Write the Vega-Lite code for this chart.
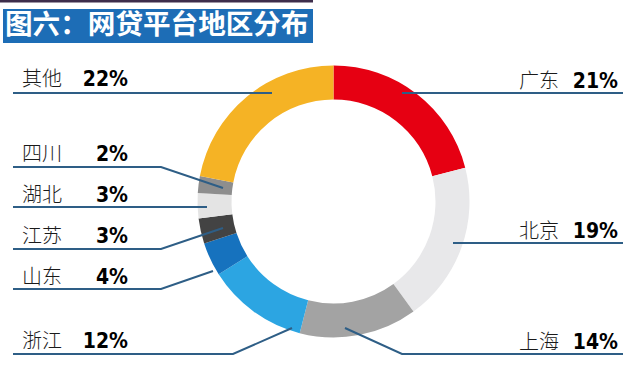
{
  "$schema": "https://vega.github.io/schema/vega-lite/v6.json",
  "width": 628,
  "height": 389,
  "padding": 0,
  "autosize": {"type": "none"},
  "background": "#ffffff",
  "config": {"view": {"stroke": null}},
  "datasets": {
    "regions": [
      {"region": "广东", "pct": 21, "rank": 1, "nx": 519, "px": 618, "ty": 82},
      {"region": "北京", "pct": 19, "rank": 2, "nx": 519, "px": 618, "ty": 232},
      {"region": "上海", "pct": 14, "rank": 3, "nx": 519, "px": 618, "ty": 343},
      {"region": "浙江", "pct": 12, "rank": 4, "nx": 22, "px": 128, "ty": 342},
      {"region": "山东", "pct": 4, "rank": 5, "nx": 22, "px": 128, "ty": 278},
      {"region": "江苏", "pct": 3, "rank": 6, "nx": 22, "px": 128, "ty": 237},
      {"region": "湖北", "pct": 3, "rank": 7, "nx": 22, "px": 128, "ty": 196},
      {"region": "四川", "pct": 2, "rank": 8, "nx": 22, "px": 128, "ty": 155},
      {"region": "其他", "pct": 22, "rank": 9, "nx": 22, "px": 128, "ty": 80}
    ],
    "leaders": [
      {"region": "其他", "i": 0, "x": 13, "y": 93},
      {"region": "其他", "i": 1, "x": 272, "y": 93},
      {"region": "四川", "i": 0, "x": 13, "y": 167},
      {"region": "四川", "i": 1, "x": 161, "y": 167},
      {"region": "四川", "i": 2, "x": 223, "y": 188},
      {"region": "湖北", "i": 0, "x": 13, "y": 207},
      {"region": "湖北", "i": 1, "x": 207, "y": 207},
      {"region": "江苏", "i": 0, "x": 13, "y": 249},
      {"region": "江苏", "i": 1, "x": 161, "y": 249},
      {"region": "江苏", "i": 2, "x": 223, "y": 228},
      {"region": "山东", "i": 0, "x": 13, "y": 289},
      {"region": "山东", "i": 1, "x": 161, "y": 289},
      {"region": "山东", "i": 2, "x": 213, "y": 271},
      {"region": "浙江", "i": 0, "x": 13, "y": 354},
      {"region": "浙江", "i": 1, "x": 233, "y": 354},
      {"region": "浙江", "i": 2, "x": 292, "y": 328},
      {"region": "广东", "i": 0, "x": 402, "y": 93},
      {"region": "广东", "i": 1, "x": 623, "y": 93},
      {"region": "北京", "i": 0, "x": 453, "y": 243},
      {"region": "北京", "i": 1, "x": 623, "y": 243},
      {"region": "上海", "i": 0, "x": 345, "y": 328},
      {"region": "上海", "i": 1, "x": 402, "y": 354},
      {"region": "上海", "i": 2, "x": 623, "y": 354}
    ]
  },
  "layer": [
    {
      "data": {"values": [{"k": 1}]},
      "mark": {"type": "rect", "color": "#3d2d4b"},
      "encoding": {
        "x": {"datum": 0, "type": "quantitative", "scale": {"domain": [0, 628], "nice": false, "zero": false}, "axis": null},
        "x2": {"datum": 313},
        "y": {"datum": 0, "type": "quantitative", "scale": {"domain": [0, 389], "reverse": true, "nice": false, "zero": false}, "axis": null},
        "y2": {"datum": 2.5}
      }
    },
    {
      "data": {"values": [{"k": 1}]},
      "mark": {"type": "rect", "color": "#1d6db6"},
      "encoding": {
        "x": {"datum": 3, "type": "quantitative"},
        "x2": {"datum": 313},
        "y": {"datum": 9, "type": "quantitative"},
        "y2": {"datum": 43}
      }
    },
    {
      "data": {"values": [{"k": 1}]},
      "mark": {"type": "text", "text": "图六：网贷平台地区分布", "font": "Noto Sans CJK SC", "fontWeight": "bold", "fontSize": 27.6, "color": "#ffffff", "align": "left", "baseline": "middle"},
      "encoding": {
        "x": {"datum": 5, "type": "quantitative"},
        "y": {"datum": 26, "type": "quantitative"}
      }
    },
    {
      "data": {"name": "regions"},
      "mark": {"type": "arc", "outerRadius": 136, "innerRadius": 102, "stroke": null},
      "encoding": {
        "x": {"datum": 333.5, "type": "quantitative"},
        "y": {"datum": 201.5, "type": "quantitative"},
        "theta": {"field": "pct", "type": "quantitative", "stack": true},
        "order": {"field": "rank", "type": "quantitative"},
        "color": {
          "field": "region",
          "type": "nominal",
          "scale": {
            "domain": ["广东", "北京", "上海", "浙江", "山东", "江苏", "湖北", "四川", "其他"],
            "range": ["#e60012", "#e8e8ea", "#a3a3a3", "#2ca5e2", "#1672be", "#434343", "#e4e4e4", "#8e8e8e", "#f5b325"]
          },
          "legend": null
        }
      }
    },
    {
      "data": {"name": "leaders"},
      "mark": {"type": "line", "color": "#2e5e86", "strokeWidth": 2},
      "encoding": {
        "x": {"field": "x", "type": "quantitative"},
        "y": {"field": "y", "type": "quantitative"},
        "detail": {"field": "region", "type": "nominal"},
        "order": {"field": "i", "type": "quantitative"}
      }
    },
    {
      "data": {"name": "regions"},
      "mark": {"type": "text", "font": "Noto Sans CJK SC", "fontSize": 20, "fontWeight": 300, "color": "#1a1a1a", "align": "left", "baseline": "middle"},
      "encoding": {
        "x": {"field": "nx", "type": "quantitative"},
        "y": {"field": "ty", "type": "quantitative"},
        "text": {"field": "region", "type": "nominal"}
      }
    },
    {
      "data": {"name": "regions"},
      "transform": [{"calculate": "datum.pct + '%'", "as": "label"}],
      "mark": {"type": "text", "font": "DejaVu Sans Condensed", "fontSize": 21, "fontWeight": "bold", "color": "#000000", "align": "right", "baseline": "middle"},
      "encoding": {
        "x": {"field": "px", "type": "quantitative"},
        "y": {"field": "ty", "type": "quantitative"},
        "text": {"field": "label", "type": "nominal"}
      }
    }
  ]
}
